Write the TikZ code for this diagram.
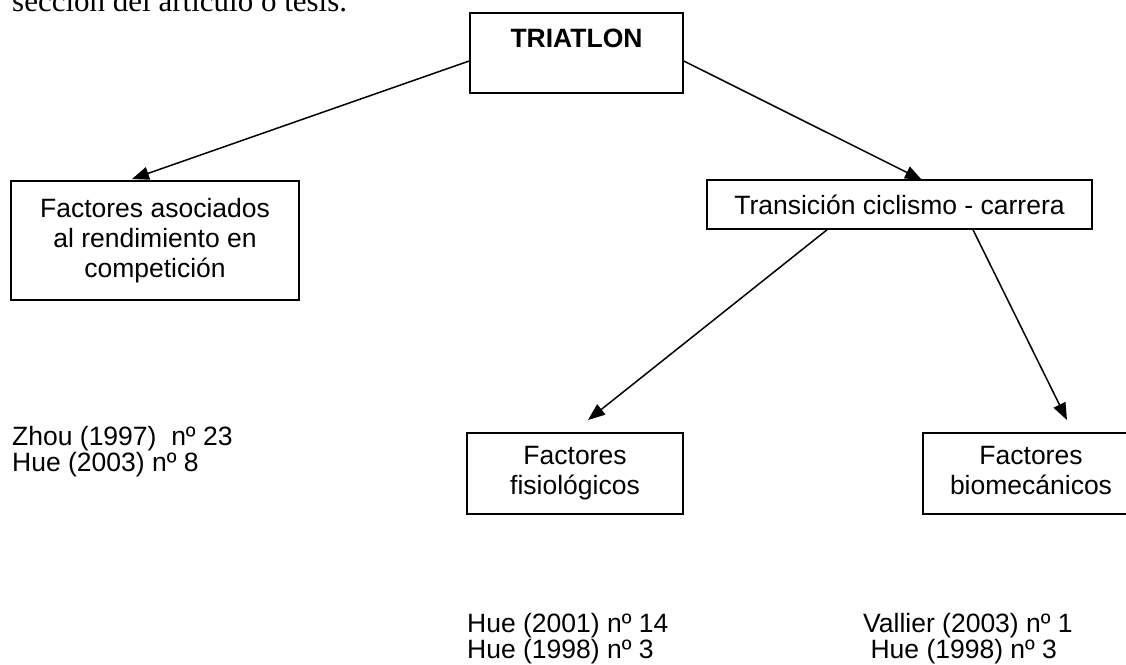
\documentclass[tikz,border=0pt]{standalone}
\usepackage{fontspec}
\setmainfont{Liberation Sans}
\newfontfamily\timesfont{Liberation Serif}
\usetikzlibrary{arrows.meta}

\begin{document}
\begin{tikzpicture}[x=1pt,y=-1pt,
    caja/.style={draw, line width=1.6pt, inner sep=0pt, align=center,
                 font=\fontsize{26.5}{30}\selectfont},
    cita/.style={inner sep=0pt, align=left, anchor=base west,
                 font=\fontsize{26.5}{26}\selectfont},
    flecha/.style={line width=1.5pt, -{Triangle[length=17pt,width=13pt]}}]
  \useasboundingbox (0,0) rectangle (1126,664);

  \node[anchor=base west, inner sep=0pt, font=\timesfont\fontsize{31}{36}\selectfont]
        (intro) at (12,11.5) {sección del artículo o tesis.};

  \node[caja, minimum width=213pt, minimum height=80pt]  (triatlon)   at (576.5,53)   {\textbf{TRIATLON}\\ \mbox{}};
  \node[caja, minimum width=288pt, minimum height=119pt] (asociados)  at (155,240.5)  {Factores asociados\\ al rendimiento en\\ competición};
  \node[caja, minimum width=385pt, minimum height=49pt]  (transicion) at (899.5,204.5) {Transición ciclismo - carrera};
  \node[caja, minimum width=216pt, minimum height=81pt]  (fisio)      at (575,473.5)  {Factores\\ fisiológicos};
  \node[caja, minimum width=216pt, minimum height=81pt]  (biomec)     at (1031,473.5) {Factores\\ biomecánicos\vphantom{g}};

  % base anchor = baseline of the last line
  \node[cita] (citaAsoc)   at (12,471)  {Zhou (1997)\ \ nº 23\\ Hue (2003) nº 8};
  \node[cita] (citaFisio)  at (467,658) {Hue (2001) nº 14\\ Hue (1998) nº 3};
  \node[cita] (citaBiomec) at (863,658) {Vallier (2003) nº 1\\ \hspace*{.278em}Hue (1998) nº 3};

  \coordinate (puntaAsoc)  at (132,179);
  \coordinate (puntaTrans) at (922,180);
  \coordinate (puntaFisio) at (588,420);
  \coordinate (puntaBio)   at (1067,420);

  \draw[flecha] ([yshift=-8pt]triatlon.west)       -- (puntaAsoc);
  \draw[flecha] ([yshift=-8pt]triatlon.east)       -- (puntaTrans);
  \draw[flecha] ([xshift=-72.5pt]transicion.south) -- (puntaFisio);
  \draw[flecha] ([xshift=73.5pt]transicion.south)  -- (puntaBio);
\end{tikzpicture}
\end{document}
